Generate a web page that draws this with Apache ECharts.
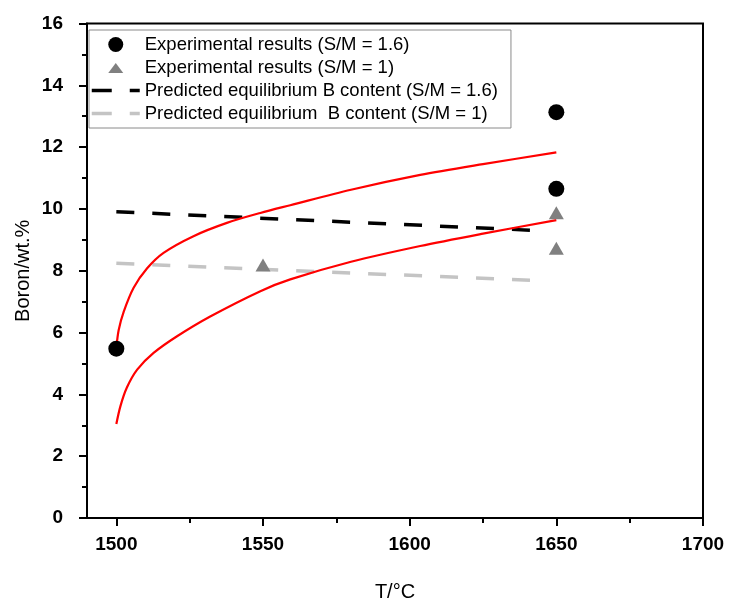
<!DOCTYPE html>
<html>
<head>
<meta charset="utf-8">
<script src="https://cdn.jsdelivr.net/npm/echarts@6/dist/echarts.min.js"></script>
<style>html,body{margin:0;padding:0;background:#fff}#c{width:732px;height:604px}</style>
</head>
<body>
<div id="c"></div>
<script>
// Experimental points
var expT16 = [1500, 1650, 1650];
var expB16 = [5.48, 13.13, 10.65];
var expT1 = [1550, 1650, 1650];
var expB1 = [8.19, 9.88, 8.73];
// Predicted equilibrium lines
var predT = [1500, 1644];
var predB16 = [9.91, 9.30];
var predB1 = [8.24, 7.68];
// Red fitted curves
var upperT = [1500, 1500.8, 1502.5, 1505.9, 1510.5, 1516.1, 1526.3, 1537.7, 1549.1, 1559.3, 1580, 1603.6, 1625, 1650];
var upperB = [5.5, 6.08, 6.67, 7.45, 8.08, 8.58, 9.12, 9.55, 9.87, 10.12, 10.62, 11.1, 11.45, 11.83];
var lowerT = [1500, 1501.4, 1503.6, 1507.1, 1512.7, 1520.7, 1532, 1549.1, 1559.3, 1580, 1603.6, 1625, 1650];
var lowerB = [3.04, 3.62, 4.22, 4.8, 5.34, 5.88, 6.52, 7.34, 7.72, 8.29, 8.8, 9.2, 9.64];
// Axis ticks
var xMajor = [1500, 1550, 1600, 1650, 1700];
var xMinor = [1525, 1575, 1625, 1675];

var names = ['Experimental results (S/M = 1.6)', 'Experimental results (S/M = 1)',
  'Predicted equilibrium B content (S/M = 1.6)', 'Predicted equilibrium  B content (S/M = 1)'];

function zip(a, b) { return a.map(function (v, i) { return [v, b[i]]; }); }

var FONT = 'Liberation Sans, Arial, sans-serif';
var chart = echarts.init(document.getElementById('c'), null, {renderer: 'canvas'});
chart.setOption({
  animation: false,
  backgroundColor: '#fff',
  grid: {left: 87, right: 29, top: 23.5, bottom: 86, outerBoundsMode: 'none', containLabel: false,
    show: true, borderColor: '#000', borderWidth: 2, backgroundColor: 'transparent'},
  legend: {
    orient: 'vertical', left: 89, top: 30, padding: [5, 13, 5, 1],
    itemWidth: 48, itemHeight: 15, itemGap: 4,
    borderColor: '#8a8a8a', borderWidth: 1, backgroundColor: '#fff',
    textStyle: {fontFamily: FONT, fontSize: 18.5, color: '#000'},
    data: [
      {name: names[0]},
      {name: names[1], icon: 'path://M0,0 M48,15 M16.5,13 L24,3 L31.5,13 Z'},
      {name: names[2], itemStyle: {opacity: 0}, lineStyle: {width: 3.5, type: [20, 18], color: '#000'}},
      {name: names[3], itemStyle: {opacity: 0}, lineStyle: {width: 3.5, type: [20, 18], color: '#c4c4c4'}}
    ]
  },
  xAxis: [{
    type: 'value', min: 1490, max: 1700,
    axisLine: {onZero: false, lineStyle: {color: '#000', width: 2}},
    axisTick: {show: true, inside: false, length: 8, lineStyle: {width: 2, color: '#000'}, customValues: xMajor},
    axisLabel: {customValues: xMajor, margin: 17, fontFamily: FONT, fontSize: 19, fontWeight: 'bold', color: '#000',
      formatter: function (v) { return String(v); }},
    splitLine: {show: false},
    name: 'T/°C', nameLocation: 'middle', nameGap: 64, nameMoveOverlap: false,
    nameTextStyle: {fontFamily: FONT, fontSize: 20, color: '#000'}
  }, {
    type: 'value', min: 1490, max: 1700, position: 'bottom',
    axisLine: {show: false, onZero: false},
    axisTick: {show: true, length: 5, lineStyle: {width: 2, color: '#000'}, customValues: xMinor},
    axisLabel: {show: false},
    splitLine: {show: false}
  }],
  yAxis: {
    type: 'value', min: 0, max: 16, interval: 2,
    axisLine: {show: true, onZero: false, lineStyle: {color: '#000', width: 2}},
    axisTick: {show: true, length: 8, lineStyle: {width: 2, color: '#000'}},
    minorTick: {show: true, splitNumber: 2, length: 5, lineStyle: {width: 2, color: '#000'}},
    axisLabel: {margin: 24, fontFamily: FONT, fontSize: 19, fontWeight: 'bold', color: '#000'},
    splitLine: {show: false},
    name: 'Boron/wt.%', nameLocation: 'middle', nameGap: 54, nameRotate: 90, nameMoveOverlap: false,
    nameTextStyle: {fontFamily: FONT, fontSize: 20, color: '#000'}
  },
  series: [
    {name: 'upper', type: 'line', data: zip(upperT, upperB), smooth: 0.3, showSymbol: false, symbol: 'none',
      lineStyle: {color: '#ff0000', width: 2.2}, z: 2},
    {name: 'lower', type: 'line', data: zip(lowerT, lowerB), smooth: 0.3, showSymbol: false, symbol: 'none',
      lineStyle: {color: '#ff0000', width: 2.2}, z: 2},
    {name: names[2], type: 'line', data: zip(predT, predB16), symbol: 'none', showSymbol: false, color: '#000',
      lineStyle: {color: '#000', width: 3.5, type: [18, 18]}, z: 1},
    {name: names[3], type: 'line', data: zip(predT, predB1), symbol: 'none', showSymbol: false, color: '#c4c4c4',
      lineStyle: {color: '#c4c4c4', width: 3.5, type: [18, 18]}, z: 1},
    {name: names[0], type: 'scatter', data: zip(expT16, expB16), symbol: 'circle', symbolSize: 16,
      itemStyle: {color: '#000', opacity: 1}, z: 3},
    {name: names[1], type: 'scatter', data: zip(expT1, expB1), symbol: 'triangle', symbolSize: [15, 13],
      itemStyle: {color: '#808080', opacity: 1}, z: 3}
  ]
});
</script>
</body>
</html>
